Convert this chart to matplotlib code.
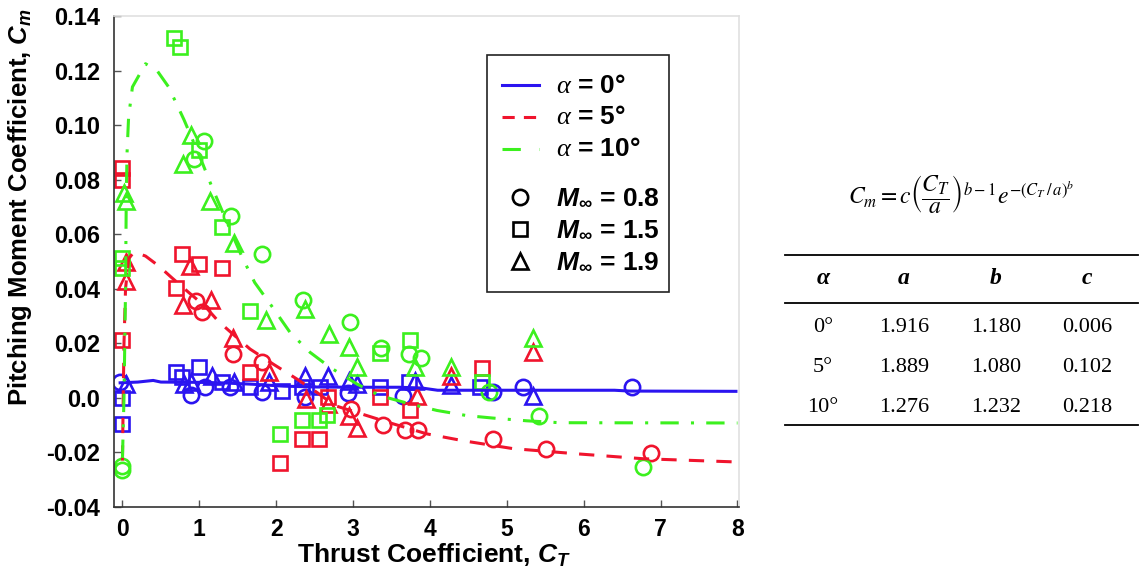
import numpy as np
import matplotlib
matplotlib.use("Agg")
import matplotlib.pyplot as plt
from matplotlib.lines import Line2D
from matplotlib.patches import Rectangle

plt.rcParams['font.family'] = ['Liberation Sans', 'DejaVu Sans']
plt.rcParams['mathtext.fontset'] = 'custom'
plt.rcParams['mathtext.rm'] = 'Liberation Sans:bold'
plt.rcParams['mathtext.bf'] = 'Liberation Sans:bold'
plt.rcParams['mathtext.it'] = 'Liberation Serif:italic'
plt.rcParams['mathtext.bfit'] = 'Liberation Sans:bold:italic'

# colours per angle of attack
c_a0 = '#2b14f0'
c_a5 = '#f0142d'
c_a10 = '#3cf01e'

# --- measured points, alpha = 0 ---
ct_a0_m08 = [-0.03, 0.89, 1.07, 1.40, 1.81, 2.37, 2.93, 3.65, 4.82, 5.21, 6.63]
cm_a0_m08 = [0.0060, 0.0011, 0.0039, 0.0039, 0.0021, 0.0003, 0.0017, 0.0008, 0.0023, 0.0039, 0.0039]
ct_a0_m15 = [0.0, 0.0, 0.70, 0.77, 1.00, 1.29, 1.66, 2.07, 2.33, 2.57, 3.35, 3.73, 4.65]
cm_a0_m15 = [0.0000, -0.0095, 0.0094, 0.0078, 0.0112, 0.0057, 0.0039, 0.0025, 0.0040, 0.0040, 0.0039, 0.0060, 0.0039]
ct_a0_m19 = [0.05, 0.80, 0.89, 1.16, 1.45, 1.90, 2.37, 2.68, 2.95, 3.05, 3.80, 4.28, 5.34]
cm_a0_m19 = [0.0051, 0.0051, 0.0060, 0.0082, 0.0060, 0.0057, 0.0082, 0.0082, 0.0063, 0.0051, 0.0063, 0.0048, 0.0008]

# --- alpha = 5 ---
ct_a5_m08 = [0.96, 1.04, 1.44, 1.81, 2.97, 3.39, 3.67, 3.84, 4.82, 5.51, 6.87]
cm_a5_m08 = [0.0356, 0.0316, 0.0161, 0.0130, -0.0040, -0.0098, -0.0116, -0.0116, -0.0150, -0.0186, -0.0202]
ct_a5_m15 = [0.0, 0.0, 0.0, 0.70, 0.77, 1.00, 1.29, 1.66, 2.05, 2.33, 2.56, 2.68, 3.35, 3.74, 4.68]
cm_a5_m15 = [0.0843, 0.0800, 0.0213, 0.0402, 0.0529, 0.0492, 0.0478, 0.0094, -0.0238, -0.0150, -0.0150, 0.0003, 0.0003, -0.0044, 0.0108]
ct_a5_m19 = [0.05, 0.04, 0.79, 0.88, 1.15, 1.44, 1.90, 2.39, 2.68, 2.95, 3.05, 3.83, 4.28, 5.34]
cm_a5_m19 = [0.0498, 0.0427, 0.0340, 0.0484, 0.0358, 0.0218, 0.0096, -0.0004, -0.0022, -0.0067, -0.0111, 0.0008, 0.0082, 0.0167]

# --- alpha = 10 ---
ct_a10_m08 = [0.0, 0.0, 0.93, 1.06, 1.415, 1.81, 2.35, 2.96, 3.36, 3.73, 3.88, 4.77, 5.42, 6.77]
cm_a10_m08 = [-0.0249, -0.0263, 0.0874, 0.0943, 0.0667, 0.0527, 0.0359, 0.0280, 0.0182, 0.0161, 0.0146, 0.0023, -0.0065, -0.0253]
ct_a10_m15 = [0.0, 0.0, 0.67, 0.75, 1.00, 1.29, 1.66, 2.05, 2.33, 2.56, 2.66, 3.35, 3.74, 4.68]
cm_a10_m15 = [0.0512, 0.0478, 0.1319, 0.1288, 0.0910, 0.0626, 0.0317, -0.0133, -0.0082, -0.0082, -0.0062, 0.0164, 0.0212, 0.0060]
ct_a10_m19 = [0.02, 0.04, 0.79, 0.89, 1.14, 1.45, 1.87, 2.37, 2.69, 2.95, 3.05, 3.80, 4.28, 5.34]
cm_a10_m19 = [0.0752, 0.0721, 0.0856, 0.0962, 0.0722, 0.0569, 0.0285, 0.0325, 0.0234, 0.0185, 0.0112, 0.0115, 0.0112, 0.0218]

# --- fit curves ---
fit_ct_a0 = [-0.05, 0.2, 0.4, 0.5, 1.0, 1.3, 1.7, 2.1, 2.5, 3.0, 3.6, 3.9, 4.1, 5.0, 6.4, 6.6, 8.0]
fit_cm_a0 = [0.0055, 0.0058, 0.0064, 0.0058, 0.0057, 0.0055, 0.0050, 0.0043, 0.0040, 0.0039, 0.0039,
             0.0036, 0.0028, 0.0028, 0.0028, 0.0025, 0.0024]
fit_ct_a5 = [0.0, 0.01, 0.02, 0.04, 0.08, 0.15, 0.3, 0.47, 0.64, 0.86, 1.07, 1.25, 1.46, 1.66, 1.96,
             2.27, 2.53, 2.76, 3.18, 3.52, 3.96, 4.45, 5.08, 5.91, 6.77, 8.0]
fit_cm_a5 = [-0.023, 0.0, 0.02, 0.04, 0.051, 0.0535, 0.052, 0.0484, 0.0441, 0.0387, 0.0337, 0.028,
             0.0228, 0.0179, 0.0124, 0.0069, 0.002, -0.0028, -0.0065, -0.0095, -0.0132, -0.0158,
             -0.0186, -0.0205, -0.0223, -0.0235]
fit_ct_a10 = [0.0, 0.02, 0.04, 0.05, 0.06, 0.08, 0.13, 0.3, 0.45, 0.6, 0.8, 1.03, 1.16, 1.29, 1.55,
              1.72, 1.94, 2.18, 2.44, 2.70, 3.05, 3.35, 3.74, 4.09, 4.48, 4.82, 5.26, 5.69, 8.0]
fit_cm_a10 = [-0.022, 0.0, 0.04, 0.075, 0.09, 0.103, 0.114, 0.1225, 0.120, 0.114, 0.102, 0.0868,
              0.0776, 0.069, 0.052, 0.0423, 0.0337, 0.024, 0.0167, 0.0112, 0.0051, 0.0008, -0.0022,
              -0.0046, -0.0065, -0.0074, -0.0084, -0.0091, -0.0092]

# --- fit parameter table ---
tab_alpha = ['0°', '5°', '10°']
tab_a = ['1.916', '1.889', '1.276']
tab_b = ['1.180', '1.080', '1.232']
tab_c = ['0.006', '0.102', '0.218']

yticks = [-0.04, -0.02, 0.0, 0.02, 0.04, 0.06, 0.08, 0.10, 0.12, 0.14]
ytick_labels = ['-0.04', '-0.02', '0.0', '0.02', '0.04', '0.06', '0.08', '0.10', '0.12', '0.14']
xticks = [0, 1, 2, 3, 4, 5, 6, 7, 8]

W, H = 1141, 578
fig = plt.figure(figsize=(W / 100, H / 100), dpi=100)
ax = fig.add_axes([114 / W, 1 - 507 / H, 625 / W, 491 / H])

mk = dict(linestyle='none', markerfacecolor='none', markeredgewidth=1.9)
for col, sets in [(c_a0, [(ct_a0_m08, cm_a0_m08), (ct_a0_m15, cm_a0_m15), (ct_a0_m19, cm_a0_m19)]),
                  (c_a5, [(ct_a5_m08, cm_a5_m08), (ct_a5_m15, cm_a5_m15), (ct_a5_m19, cm_a5_m19)]),
                  (c_a10, [(ct_a10_m08, cm_a10_m08), (ct_a10_m15, cm_a10_m15), (ct_a10_m19, cm_a10_m19)])]:
    ax.plot(sets[0][0], sets[0][1], marker='o', markersize=11, markeredgecolor=col, **mk)
    ax.plot(sets[1][0], sets[1][1], marker='s', markersize=10, markeredgecolor=col, **mk)
    ax.plot(sets[2][0], sets[2][1], marker='^', markersize=11, markeredgecolor=col, **mk)

ax.plot(fit_ct_a0, fit_cm_a0, color=c_a0, lw=2.2, solid_capstyle='butt')
ax.plot(fit_ct_a5, fit_cm_a5, color=c_a5, lw=2.2, dashes=(5, 4))
ax.plot(fit_ct_a10, fit_cm_a10, color=c_a10, lw=2.2, dashes=(6, 4, 1, 4))

ax.set_xlim(-0.11, 8.02)
ax.set_ylim(-0.04, 0.14)
ax.set_xticks(xticks)
ax.set_xticklabels([str(t) for t in xticks], fontsize=16.5, fontweight='bold')
ax.set_yticks(yticks)
ax.set_yticklabels(ytick_labels, fontsize=17, fontweight='bold')
ax.tick_params(direction='in', length=5, width=1, color='#555555')
ax.tick_params(axis='y', pad=10)
ax.tick_params(axis='x', pad=8)
for s in ['left', 'bottom']:
    ax.spines[s].set_color('#333333')
    ax.spines[s].set_linewidth(1.2)
for s in ['top', 'right']:
    ax.spines[s].set_color('#e0e0e0')
    ax.spines[s].set_linewidth(1.2)

ax.set_xlabel(r'Thrust Coefficient, $\mathbfit{C_T}$', fontsize=19, fontweight='bold')
ax.set_ylabel(r'Pitching Moment Coefficient, $\mathbfit{C_m}$', fontsize=18.5, fontweight='bold')
ax.xaxis.set_label_coords(0.512, -0.071)
ax.yaxis.set_label_coords(-0.128, 0.611)

# legend: two frameless legends inside one box
line_handles = [Line2D([], [], color=c_a0, lw=2.2),
                Line2D([], [], color=c_a5, lw=2.2, dashes=(4, 3)),
                Line2D([], [], color=c_a10, lw=2.2, dashes=(6, 6, 1, 6))]
line_labels = [r'$\alpha$ = 0°', r'$\alpha$ = 5°', r'$\alpha$ = 10°']
mark_handles = [Line2D([], [], marker=m, color='black', markerfacecolor='none', markersize=s,
                       mew=1.9, linestyle='none') for m, s in [('o', 11), ('s', 10), ('^', 11)]]
mark_labels = [r'$\mathbfit{M}_{\infty}$ = 0.8', r'$\mathbfit{M}_{\infty}$ = 1.5',
               r'$\mathbfit{M}_{\infty}$ = 1.9']
leg_kw = dict(loc='upper left', borderaxespad=0, prop={'size': 19, 'weight': 'bold'}, frameon=False,
              handlelength=1.4, handleheight=0.3, handletextpad=0.65, labelspacing=0.3, borderpad=0.55)
leg1 = ax.legend(line_handles, line_labels, bbox_to_anchor=(0.597, 0.9124), **leg_kw)
ax.add_artist(leg1)
leg2 = ax.legend(mark_handles, mark_labels, bbox_to_anchor=(0.597, 0.6843), **leg_kw)
leg1.set_zorder(6)
leg2.set_zorder(6)
ax.add_patch(Rectangle((0.597, 0.4379), 0.291, 0.4827, transform=ax.transAxes, facecolor='white',
                       edgecolor='#222222', lw=1.2, zorder=5))

# formula and table on the right
fig.text(961 / W, 1 - 194 / H,
         r'$C_m = c\left(\dfrac{C_T}{a}\right)^{b-1} e^{-\left(C_T\,/\,a\right)^{b}}$',
         math_fontfamily='stix', fontsize=17, ha='center', va='center')

x0, x1 = 785 / W, 1138 / W
for yp in [255, 303, 425]:
    fig.add_artist(Line2D([x0, x1], [1 - yp / H, 1 - yp / H], color='black', lw=1.3))

col_x = [823, 904, 996, 1087]
for xp, hdr in zip(col_x, ['α', 'a', 'b', 'c']):
    fig.text(xp / W, 1 - 279 / H, hdr, family='Liberation Serif', fontweight='bold', style='italic',
             fontsize=17, ha='center', va='center')
row_y = [327, 367, 407]
for i, yp in enumerate(row_y):
    for xp, val in zip(col_x, [tab_alpha[i], tab_a[i], tab_b[i], tab_c[i]]):
        fig.text(xp / W, 1 - yp / H, val, family='Liberation Serif', fontsize=16,
                 ha='center', va='center')

fig.savefig('out.png', dpi=100)
